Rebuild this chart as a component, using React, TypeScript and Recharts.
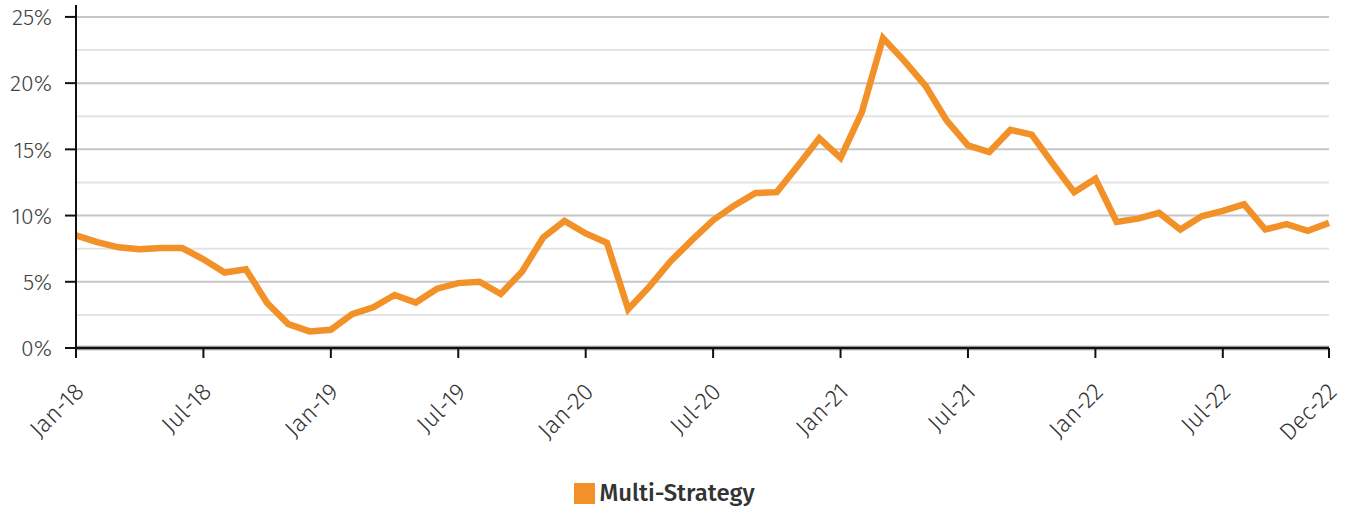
import { Legend, Line, LineChart, ReferenceLine, XAxis, YAxis } from "recharts";

const MONTH_NAMES = ["Jan", "Feb", "Mar", "Apr", "May", "Jun", "Jul", "Aug", "Sep", "Oct", "Nov", "Dec"];
const YEARS = ["18", "19", "20", "21", "22"];

// Multi-Strategy, % (Jan-18 .. Dec-22)
const MULTI_STRATEGY = [
  8.5, 8.0, 7.6, 7.45, 7.55, 7.55, 6.7, 5.7, 5.95, 3.4, 1.8, 1.25,
  1.38, 2.55, 3.08, 4.0, 3.43, 4.48, 4.9, 5.0, 4.08, 5.76, 8.35, 9.6,
  8.65, 7.94, 2.93, 4.63, 6.56, 8.14, 9.65, 10.77, 11.7, 11.77, 13.78, 15.83,
  14.36, 17.8, 23.4, 21.68, 19.8, 17.17, 15.3, 14.8, 16.47, 16.11, 13.9, 11.77,
  12.78, 9.52, 9.77, 10.2, 8.95, 9.95, 10.35, 10.85, 8.95, 9.35, 8.85, 9.45,
];

const X_TICKS = [
  "Jan-18", "Jul-18", "Jan-19", "Jul-19", "Jan-20", "Jul-20",
  "Jan-21", "Jul-21", "Jan-22", "Jul-22", "Dec-22",
];
const Y_TICKS = [0, 2.5, 5, 7.5, 10, 12.5, 15, 17.5, 20, 22.5, 25];

const MONTHS = YEARS.flatMap((yr) => MONTH_NAMES.map((m) => `${m}-${yr}`));
const data = MONTHS.map((month, i) => ({ month, value: MULTI_STRATEGY[i] }));

const ORANGE = "#F39129";
const FONT = "'Fira Sans', 'Open Sans', 'Noto Sans', sans-serif";

function YTick({ x, y, payload }: any) {
  const v = payload.value;
  if (v % 5 !== 0) return null;
  return (
    <g>
      <line x1={x + 13} x2={x + 24} y1={y} y2={y} stroke="#111" strokeWidth={2} />
      <text x={x} y={y} dy="0.36em" textAnchor="end" fill="#444" fontSize={23} fontWeight={300} fontFamily={FONT}>
        {`${v}%`}
      </text>
    </g>
  );
}

function XTick({ x, y, payload }: any) {
  return (
    <g transform={`translate(${x + 3},${y + 27})`}>
      <text
        x={0}
        y={0}
        dy="0.36em"
        textAnchor="end"
        transform="rotate(-45)"
        fill="#333"
        fontSize={24}
        fontWeight={300}
        fontFamily={FONT}
      >
        {payload.value}
      </text>
    </g>
  );
}

function LegendBox() {
  return (
    <div
      style={{
        height: 40,
        display: "flex",
        alignItems: "center",
        justifyContent: "center",
        fontFamily: FONT,
      }}
    >
      <span style={{ width: 21, height: 21, background: ORANGE, display: "inline-block", marginRight: 4 }} />
      <span style={{ fontSize: 24, fontWeight: 500, color: "#333" }}>Multi-Strategy</span>
    </div>
  );
}

export default function App() {
  return (
    <div style={{ position: "absolute", left: 0, top: 0, width: 1346, height: 513, background: "#fff" }}>
      <LineChart width={1346} height={513} data={data} margin={{ top: 5, right: 17, left: 0, bottom: 0 }}>
        {Y_TICKS.map((t) => (
          <ReferenceLine
            key={t}
            y={t}
            stroke={t % 5 === 0 ? "#c6c6c6" : "#e4e4e4"}
            strokeWidth={t === 0 ? 5 : 2}
          />
        ))}
        <XAxis
          dataKey="month"
          ticks={X_TICKS}
          interval={0}
          height={125}
          tickSize={10}
          tickLine={{ stroke: "#111", strokeWidth: 2 }}
          axisLine={{ stroke: "#111", strokeWidth: 2.5 }}
          tick={<XTick />}
        />
        <YAxis
          width={76}
          domain={[0, 25.9]}
          ticks={Y_TICKS}
          interval={0}
          tickLine={false}
          tickSize={11}
          tickMargin={13}
          axisLine={{ stroke: "#111", strokeWidth: 2 }}
          tick={<YTick />}
        />
        <Legend verticalAlign="bottom" content={<LegendBox />} />
        <Line
          type="linear"
          dataKey="value"
          name="Multi-Strategy"
          stroke={ORANGE}
          strokeWidth={6.5}
          dot={false}
          isAnimationActive={false}
        />
      </LineChart>
    </div>
  );
}
